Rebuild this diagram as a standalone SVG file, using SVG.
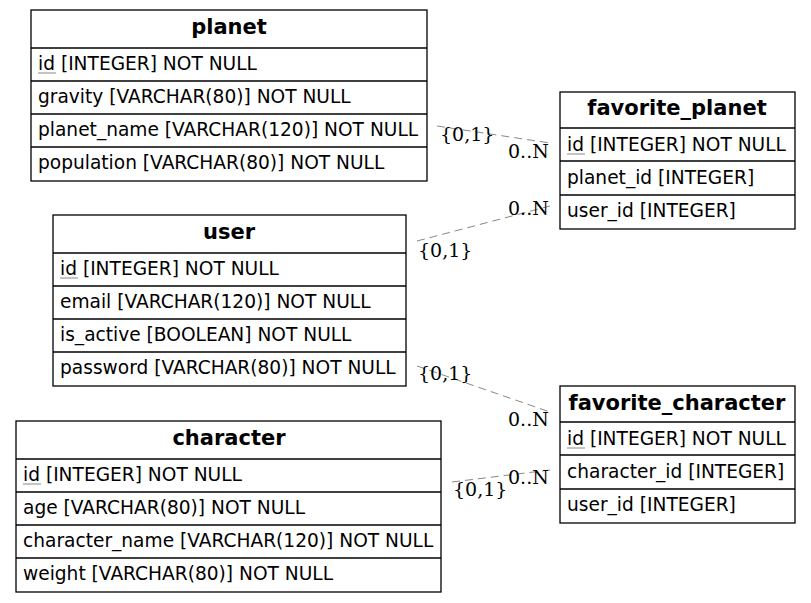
<svg xmlns="http://www.w3.org/2000/svg" width="811" height="603" viewBox="0 0 811 603">
<style>
.box{fill:#fff;stroke:#000;stroke-width:1.3}
.sep{stroke:#000;stroke-width:1.3}
.h{font-family:"DejaVu Sans",sans-serif;font-size:21px;font-weight:bold;text-anchor:middle;fill:#000}
.f{font-family:"DejaVu Sans",sans-serif;font-size:18.6px;fill:#000}
.u{stroke:#888;stroke-width:1}
.e{stroke:#888;stroke-width:1;stroke-dasharray:8,5;fill:none}
.l{font-family:"DejaVu Serif",serif;font-size:19px;fill:#000}
</style>
<rect width="811" height="603" fill="#fff"/>
<g id="connectors">
<line class="e" x1="437" y1="126" x2="550" y2="143"/>
<line class="e" x1="417" y1="241" x2="550" y2="206"/>
<line class="e" x1="417" y1="366" x2="550" y2="412"/>
<line class="e" x1="452" y1="482" x2="550" y2="470"/>
<text class="l" x="440" y="141">{0,1}</text>
<text class="l" x="508" y="158">0..N</text>
<text class="l" x="418" y="257">{0,1}</text>
<text class="l" x="508" y="215">0..N</text>
<text class="l" x="418" y="380">{0,1}</text>
<text class="l" x="508" y="426">0..N</text>
<text class="l" x="453" y="496">{0,1}</text>
<text class="l" x="508" y="484">0..N</text>
</g>
<g id="planet">
<rect class="box" x="31" y="10" width="396" height="171"/>
<line class="sep" x1="31" y1="48" x2="427" y2="48"/>
<line class="sep" x1="31" y1="81" x2="427" y2="81"/>
<line class="sep" x1="31" y1="114" x2="427" y2="114"/>
<line class="sep" x1="31" y1="147" x2="427" y2="147"/>
<text class="h" x="229" y="34">planet</text>
<text class="f" x="38" y="70">id [INTEGER] NOT NULL</text>
<line class="u" x1="38" y1="73" x2="56" y2="73"/>
<text class="f" x="38" y="103">gravity [VARCHAR(80)] NOT NULL</text>
<text class="f" x="38" y="136">planet_name [VARCHAR(120)] NOT NULL</text>
<text class="f" x="38" y="169">population [VARCHAR(80)] NOT NULL</text>
</g>
<g id="favorite_planet">
<rect class="box" x="560" y="92" width="235" height="137"/>
<line class="sep" x1="560" y1="128" x2="795" y2="128"/>
<line class="sep" x1="560" y1="161" x2="795" y2="161"/>
<line class="sep" x1="560" y1="195" x2="795" y2="195"/>
<text class="h" x="677" y="115">favorite_planet</text>
<text class="f" x="567" y="151">id [INTEGER] NOT NULL</text>
<line class="u" x1="567" y1="154" x2="585" y2="154"/>
<text class="f" x="567" y="184">planet_id [INTEGER]</text>
<text class="f" x="567" y="217">user_id [INTEGER]</text>
</g>
<g id="user">
<rect class="box" x="53" y="215" width="353" height="171"/>
<line class="sep" x1="53" y1="253" x2="406" y2="253"/>
<line class="sep" x1="53" y1="286" x2="406" y2="286"/>
<line class="sep" x1="53" y1="319" x2="406" y2="319"/>
<line class="sep" x1="53" y1="352" x2="406" y2="352"/>
<text class="h" x="229" y="239">user</text>
<text class="f" x="60" y="275">id [INTEGER] NOT NULL</text>
<line class="u" x1="60" y1="278" x2="78" y2="278"/>
<text class="f" x="60" y="308">email [VARCHAR(120)] NOT NULL</text>
<text class="f" x="60" y="341">is_active [BOOLEAN] NOT NULL</text>
<text class="f" x="60" y="374">password [VARCHAR(80)] NOT NULL</text>
</g>
<g id="favorite_character">
<rect class="box" x="560" y="386" width="235" height="137"/>
<line class="sep" x1="560" y1="422" x2="795" y2="422"/>
<line class="sep" x1="560" y1="455" x2="795" y2="455"/>
<line class="sep" x1="560" y1="489" x2="795" y2="489"/>
<text class="h" x="677" y="410">favorite_character</text>
<text class="f" x="567" y="445">id [INTEGER] NOT NULL</text>
<line class="u" x1="567" y1="448" x2="585" y2="448"/>
<text class="f" x="567" y="478">character_id [INTEGER]</text>
<text class="f" x="567" y="511">user_id [INTEGER]</text>
</g>
<g id="character">
<rect class="box" x="16" y="421" width="425" height="171"/>
<line class="sep" x1="16" y1="459" x2="441" y2="459"/>
<line class="sep" x1="16" y1="492" x2="441" y2="492"/>
<line class="sep" x1="16" y1="525" x2="441" y2="525"/>
<line class="sep" x1="16" y1="558" x2="441" y2="558"/>
<text class="h" x="229" y="445">character</text>
<text class="f" x="23" y="481">id [INTEGER] NOT NULL</text>
<line class="u" x1="23" y1="484" x2="41" y2="484"/>
<text class="f" x="23" y="514">age [VARCHAR(80)] NOT NULL</text>
<text class="f" x="23" y="547">character_name [VARCHAR(120)] NOT NULL</text>
<text class="f" x="23" y="580">weight [VARCHAR(80)] NOT NULL</text>
</g>
</svg>
